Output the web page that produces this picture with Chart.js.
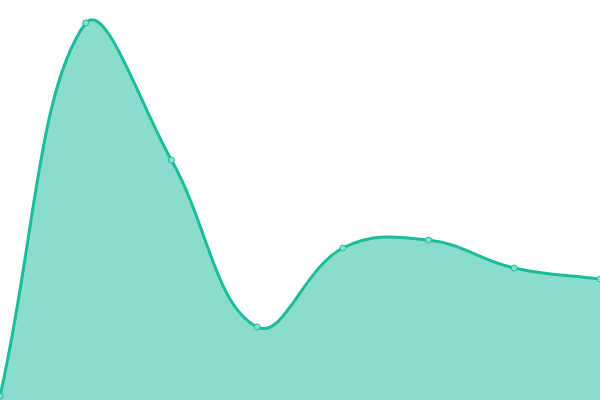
<!DOCTYPE html>
<html><head><meta charset="utf-8">
<script src="https://cdn.jsdelivr.net/npm/chart.js@4"></script>
<style>html,body{margin:0;padding:0;background:#fff}#c{width:600px;height:400px;display:block}</style>
</head><body>
<div style="width:600px;height:400px"><canvas id="c"></canvas></div>
<script>
const labels = ["1","2","3","4","5","6","7","8"];
const values = [1, 94.25, 60, 18.25, 38, 40, 33, 30.25];
new Chart(document.getElementById('c'), {
  type: 'line',
  data: { labels: labels, datasets: [{
    data: values,
    fill: true,
    backgroundColor: 'rgba(26,188,156,0.51)',
    borderColor: '#1abc9c',
    borderWidth: 3,
    tension: 0.4,
    pointRadius: 3,
    pointBackgroundColor: '#8de0cf',
    pointBorderColor: '#1abc9c',
    pointBorderWidth: 1
  }]},
  options: {
    responsive: true, maintainAspectRatio: false, animation: false,
    layout: { padding: 0, autoPadding: false },
    plugins: { legend: { display: false }, tooltip: { enabled: false } },
    scales: {
      x: { display: false, offset: false },
      y: { display: false, min: 0, max: 100 }
    }
  }
});
</script>
</body></html>
